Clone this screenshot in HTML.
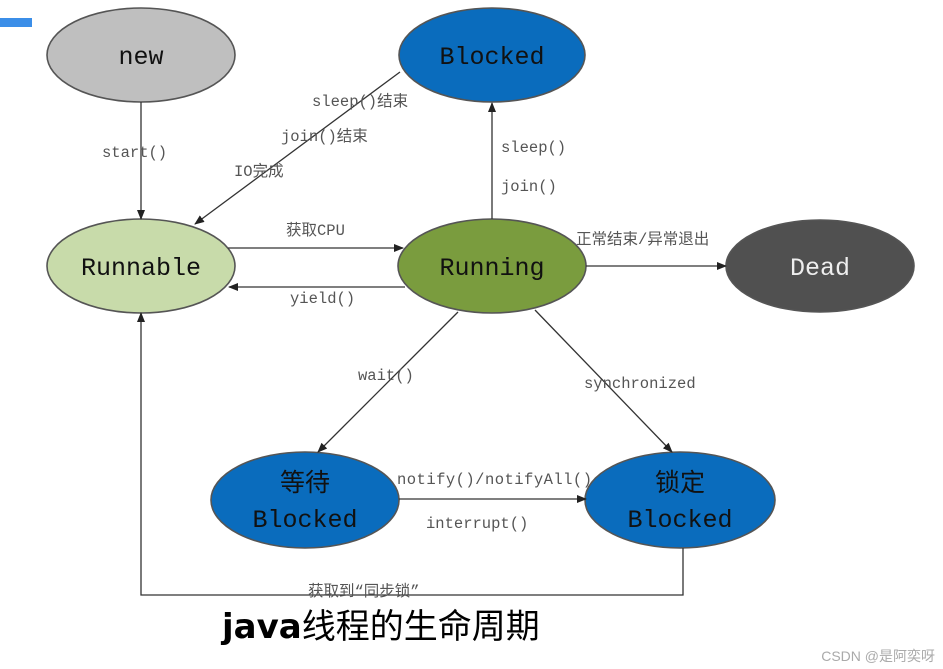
<!DOCTYPE html>
<html><head><meta charset="utf-8"><style>
html,body{margin:0;padding:0;background:#fff;width:943px;height:669px;overflow:hidden}
svg{display:block}
.s{font-family:"Liberation Mono","Noto Sans CJK SC",monospace;font-size:15.5px;fill:#555}
.n{font-family:"Liberation Mono","Noto Sans CJK SC",monospace;font-size:25px;fill:#111;text-anchor:middle}
</style></head><body>
<svg width="943" height="669" viewBox="0 0 943 669">
<defs><marker id="a" markerWidth="10" markerHeight="10" refX="9" refY="5" orient="auto" markerUnits="userSpaceOnUse"><path d="M0,1 L10,5 L0,9 Z" fill="#222"/></marker></defs>
<rect x="0" y="18" width="32" height="9" fill="#3b8ee8"/>
<g stroke="#555" stroke-width="1.6">
<ellipse cx="141" cy="55" rx="94" ry="47" fill="#bfbfbf"/>
<ellipse cx="492" cy="55" rx="93" ry="47" fill="#0a6cbd"/>
<ellipse cx="141" cy="266" rx="94" ry="47" fill="#c8dbaa"/>
<ellipse cx="492" cy="266" rx="94" ry="47" fill="#7a9c3e"/>
<ellipse cx="820" cy="266" rx="94" ry="46" fill="#505050"/>
<ellipse cx="305" cy="500" rx="94" ry="48" fill="#0a6cbd"/>
<ellipse cx="680" cy="500" rx="95" ry="48" fill="#0a6cbd"/>
</g>
<g stroke="#333" stroke-width="1.3" fill="none" marker-end="url(#a)">
<line x1="141" y1="102" x2="141" y2="219"/>
<line x1="400" y1="72" x2="195" y2="224"/>
<line x1="492" y1="219" x2="492" y2="103"/>
<line x1="228" y1="248" x2="403" y2="248"/>
<line x1="405" y1="287" x2="229" y2="287"/>
<line x1="586" y1="266" x2="726" y2="266"/>
<line x1="458" y1="312" x2="318" y2="452"/>
<line x1="535" y1="310" x2="672" y2="452"/>
<line x1="399" y1="499" x2="586" y2="499"/>
<polyline points="683,548 683,595 141,595 141,313"/>
</g>
<text class="n" x="141" y="64">new</text>
<text class="n" x="492" y="64">Blocked</text>
<text class="n" x="141" y="275">Runnable</text>
<text class="n" x="492" y="275">Running</text>
<text class="n" x="820" y="275" style="fill:#eee">Dead</text>
<text class="n" x="305" y="491">等待</text>
<text class="n" x="305" y="527">Blocked</text>
<text class="n" x="680" y="491">锁定</text>
<text class="n" x="680" y="527">Blocked</text>
<text class="s" x="102" y="157">start()</text>
<text class="s" x="312" y="106">sleep()结束</text>
<text class="s" x="281" y="141">join()结束</text>
<text class="s" x="234" y="176">IO完成</text>
<text class="s" x="501" y="152">sleep()</text>
<text class="s" x="501" y="191">join()</text>
<text class="s" x="286" y="235">获取CPU</text>
<text class="s" x="290" y="303">yield()</text>
<text class="s" x="576" y="244">正常结束/异常退出</text>
<text class="s" x="358" y="380">wait()</text>
<text class="s" x="584" y="388">synchronized</text>
<text class="s" x="397" y="484" textLength="195">notify()/notifyAll()</text>
<text class="s" x="426" y="528">interrupt()</text>
<text class="s" x="308" y="596">获取到“同步锁”</text>
<text x="222" y="638" style="font-family:'DejaVu Sans','Noto Sans CJK SC',sans-serif;font-size:34px;fill:#000"><tspan font-weight="bold">java</tspan>线程的生命周期</text>
<text x="935" y="661" text-anchor="end" style="font-family:'Liberation Sans','Noto Sans CJK SC',sans-serif;font-size:14px;fill:#aaa">CSDN @是阿奕呀</text>
</svg>
</body></html>
